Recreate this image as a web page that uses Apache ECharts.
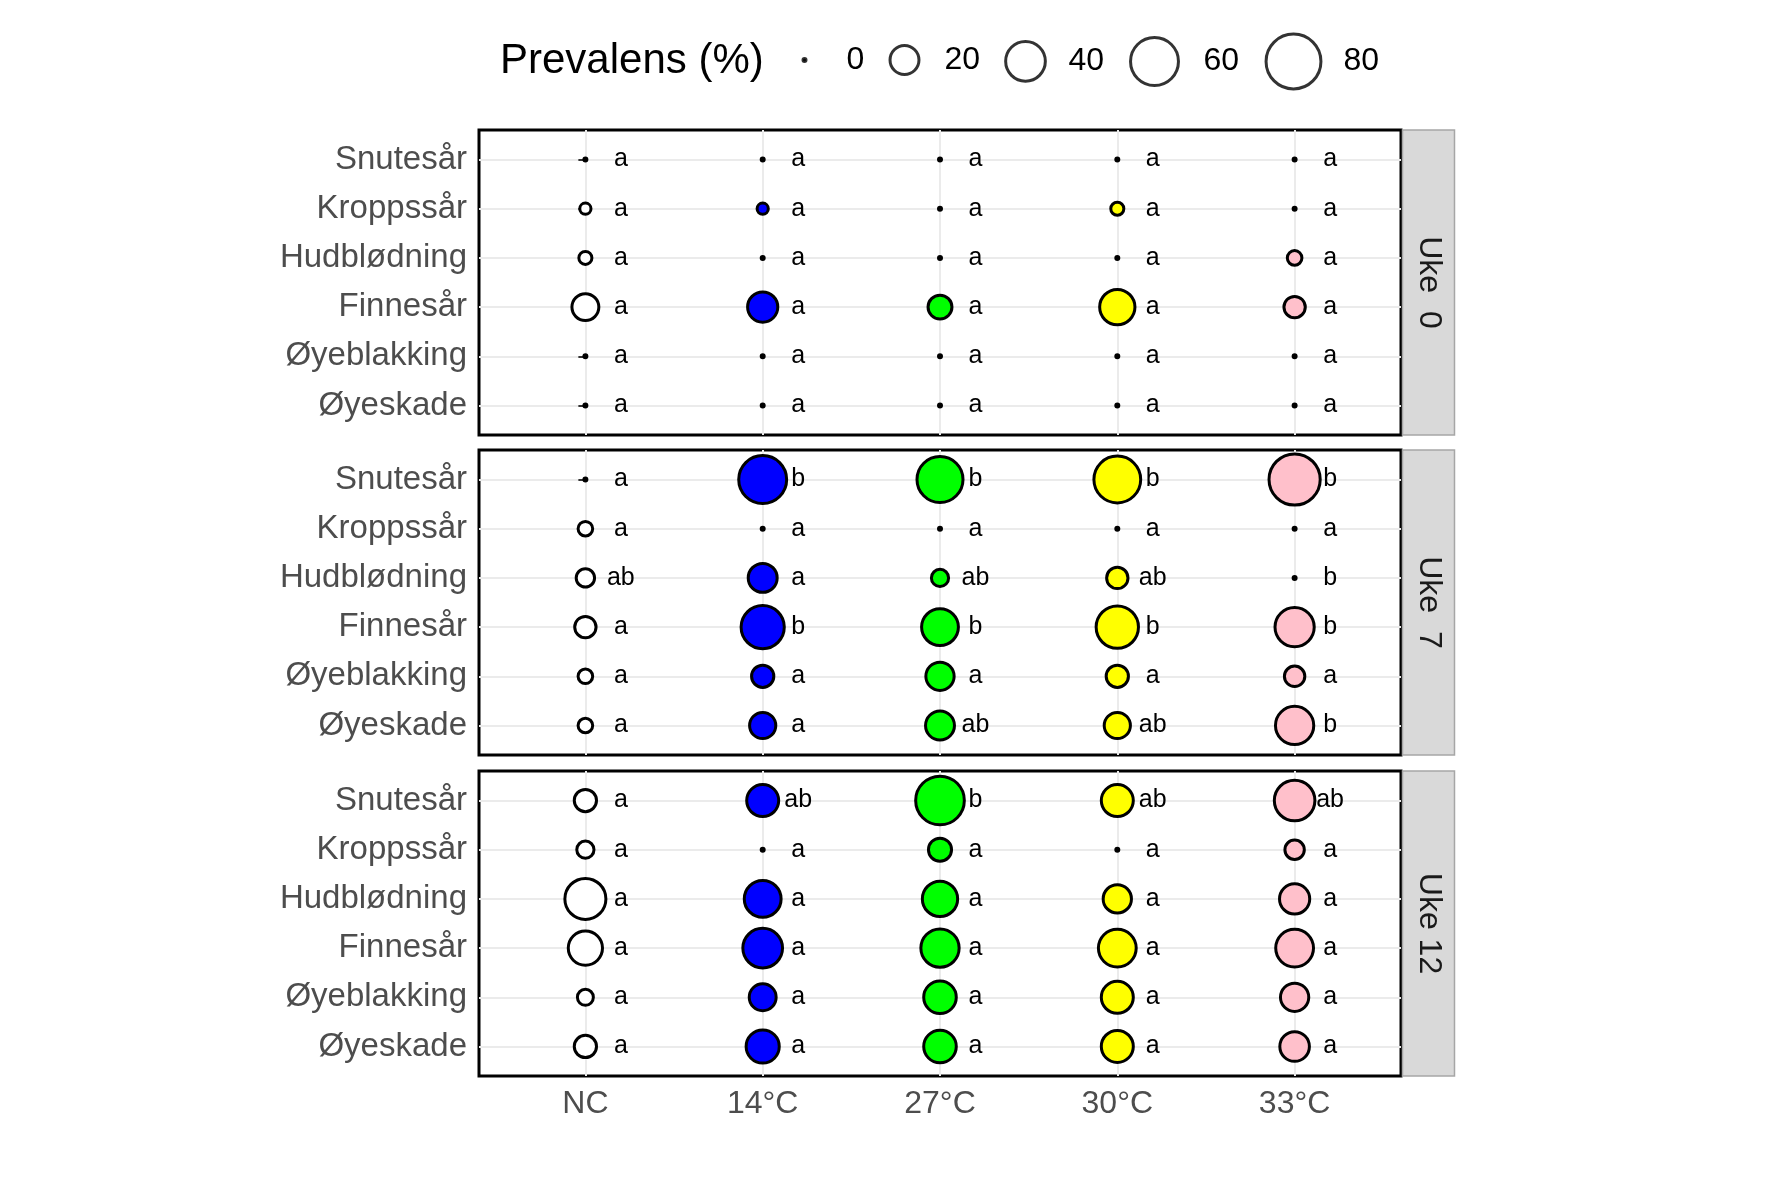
<!DOCTYPE html>
<html><head><meta charset="utf-8">
<script src="https://cdn.jsdelivr.net/npm/echarts@6/dist/echarts.min.js"></script>
<style>html,body{margin:0;padding:0;background:#fff}#c{width:1772px;height:1181px}</style>
</head><body><div id="c"></div>
<script>
// ---------- data ----------
const categories = ['NC', '14°C', '27°C', '30°C', '33°C'];
const symptoms = ['Snutesår', 'Kroppssår', 'Hudblødning', 'Finnesår', 'Øyeblakking', 'Øyeskade'];
const weeks = ['Uke  0', 'Uke  7', 'Uke 12'];
const legendValues = [0, 20, 40, 60, 80];

// prevalence (%) rows = symptoms, columns = categories
const prevUke0 = [
  [0, 0, 0, 0, 0],
  [2, 2, 0, 3, 0],
  [3, 0, 0, 0, 4],
  [17, 22, 13, 31, 10],
  [0, 0, 0, 0, 0],
  [0, 0, 0, 0, 0]
];
const prevUke7 = [
  [0, 60, 55, 57, 69],
  [4, 0, 0, 0, 0],
  [7, 20, 6, 10, 0],
  [10, 48, 34, 46, 39],
  [4, 11, 19, 11, 9],
  [4, 16, 20, 16, 37]
];
const prevUke12 = [
  [11, 25, 62, 25, 42],
  [6, 0, 12, 0, 8],
  [43, 34, 31, 19, 22],
  [29, 40, 37, 36, 36],
  [5, 17, 26, 25, 19],
  [11, 27, 26, 25, 21]
];
const lettersUke0 = [
  ['a', 'a', 'a', 'a', 'a'],
  ['a', 'a', 'a', 'a', 'a'],
  ['a', 'a', 'a', 'a', 'a'],
  ['a', 'a', 'a', 'a', 'a'],
  ['a', 'a', 'a', 'a', 'a'],
  ['a', 'a', 'a', 'a', 'a']
];
const lettersUke7 = [
  ['a', 'b', 'b', 'b', 'b'],
  ['a', 'a', 'a', 'a', 'a'],
  ['ab', 'a', 'ab', 'ab', 'b'],
  ['a', 'b', 'b', 'b', 'b'],
  ['a', 'a', 'a', 'a', 'a'],
  ['a', 'a', 'ab', 'ab', 'b']
];
const lettersUke12 = [
  ['a', 'ab', 'b', 'ab', 'ab'],
  ['a', 'a', 'a', 'a', 'a'],
  ['a', 'a', 'a', 'a', 'a'],
  ['a', 'a', 'a', 'a', 'a'],
  ['a', 'a', 'a', 'a', 'a'],
  ['a', 'a', 'a', 'a', 'a']
];

// ---------- styling / layout ----------
const prevs = [prevUke0, prevUke7, prevUke12];
const letters = [lettersUke0, lettersUke7, lettersUke12];
const fillColors = ['#FFFFFF', '#0000FF', '#00FF00', '#FFFF00', '#FFC0CB'];
const FONT = 'Liberation Sans, Arial, sans-serif';
const BW = 3;
const sizeOf = v => 3 + 5.8 * Math.sqrt(v);   // area-proportional size scale
const labelNudge = 0.2;

const panelLeft = 479, panelWidth = 922, panelHeight = 305;
const panelTops = [130, 450, 771];
const stripWidth = 52;

const legendCx = [803, 903, 1024, 1153, 1292];
const legendTextX = [845, 943, 1067, 1202, 1342];
const legendCy = 60;

const chart = echarts.init(document.getElementById('c'), null, {renderer: 'canvas'});

const grids = [], xAxes = [], yAxes = [], series = [], graphics = [];
const catIdx = categories.map((_, i) => i);
const rowIdx = symptoms.map((_, i) => i);

weeks.forEach((wk, w) => {
  const isBottom = w === weeks.length - 1;
  grids.push({
    left: panelLeft, top: panelTops[w], width: panelWidth, height: panelHeight,
    show: true, borderColor: '#000', borderWidth: 3, backgroundColor: 'transparent', containLabel: false
  });
  xAxes.push({
    type: 'value', gridIndex: w, min: -0.6, max: 4.6,
    axisLine: {show: false},
    axisTick: {show: isBottom, customValues: catIdx, length: 7, lineStyle: {color: '#333', width: 2}},
    axisLabel: {show: isBottom, customValues: catIdx, formatter: v => categories[Math.round(v)],
      fontSize: 32, color: '#4D4D4D', fontFamily: FONT, margin: 12},
    splitLine: {show: true, lineStyle: {color: '#EBEBEB', width: 2}}
  });
  yAxes.push({
    type: 'value', gridIndex: w, min: -0.6, max: 5.6, inverse: true,
    axisLine: {show: false},
    axisTick: {show: true, customValues: rowIdx, length: 7, lineStyle: {color: '#333', width: 2}},
    axisLabel: {show: true, customValues: rowIdx, formatter: v => symptoms[Math.round(v)],
      fontSize: 33, color: '#4D4D4D', fontFamily: FONT, margin: 12},
    splitLine: {show: true, lineStyle: {color: '#EBEBEB', width: 2}}
  });

  const pts = [], lbls = [];
  symptoms.forEach((s, r) => {
    categories.forEach((c, ci) => {
      pts.push([ci, r, prevs[w][r][ci]]);
      lbls.push([ci + labelNudge, r, letters[w][r][ci]]);
    });
  });
  series.push({
    type: 'scatter', xAxisIndex: w, yAxisIndex: w, data: pts, z: 3,
    symbol: 'circle', symbolSize: d => sizeOf(d[2]),
    itemStyle: {color: p => (p.data[2] === 0 ? '#000' : fillColors[p.data[0]]), borderColor: '#000', borderWidth: BW, opacity: 1},
    emphasis: {disabled: true}, silent: true, clip: false
  });
  series.push({
    type: 'scatter', xAxisIndex: w, yAxisIndex: w, data: lbls, z: 4,
    symbol: 'circle', symbolSize: 1, itemStyle: {color: 'rgba(0,0,0,0)'},
    label: {show: true, position: 'inside', formatter: p => p.data[2],
      fontSize: 25, color: '#000', fontFamily: FONT, opacity: 1},
    emphasis: {disabled: true}, silent: true, clip: false
  });

  // facet strip
  graphics.push({
    type: 'rect', z: 0,
    shape: {x: panelLeft + panelWidth + 1.5, y: panelTops[w], width: stripWidth, height: panelHeight},
    style: {fill: '#D9D9D9', stroke: '#A6A6A6', lineWidth: 1.5}
  });
  graphics.push({
    type: 'text', z: 1,
    x: panelLeft + panelWidth + 1.5 + stripWidth / 2, y: panelTops[w] + panelHeight / 2,
    rotation: -Math.PI / 2,
    style: {text: wk, fontSize: 32, fontFamily: FONT, fill: '#1A1A1A', align: 'center', verticalAlign: 'middle'}
  });
});

// legend title
graphics.push({
  type: 'text', x: 500, y: legendCy + 1,
  style: {text: 'Prevalens (%)', fontSize: 42, fontFamily: FONT, fill: '#000', align: 'left', verticalAlign: 'middle'}
});

// size legend: one legend component per key (different key sizes)
const legends = [];
legendValues.forEach((v, i) => {
  const s = sizeOf(v);
  const name = String(v);
  series.push({
    type: 'scatter', name: name, xAxisIndex: 0, yAxisIndex: 0, data: [],
    itemStyle: {color: v === 0 ? '#000' : '#fff', borderColor: '#000', borderWidth: BW}
  });
  const lh = 40;
  const h = Math.max(s, lh);
  legends.push({
    data: [name], icon: 'circle', selectedMode: false,
    left: legendCx[i] - s / 2, top: legendCy - h / 2,
    itemWidth: s, itemHeight: s, itemGap: 0, padding: 0,
    itemStyle: {color: v === 0 ? '#000' : '#fff', borderColor: '#000', borderWidth: BW},
    textStyle: {fontSize: 32, color: '#000', fontFamily: FONT, lineHeight: lh,
      padding: [0, 0, 0, legendTextX[i] - (legendCx[i] + s / 2) - 5]}
  });
});

chart.setOption({
  backgroundColor: '#fff',
  animation: false,
  textStyle: {fontFamily: FONT},
  grid: grids, xAxis: xAxes, yAxis: yAxes,
  legend: legends,
  series: series,
  graphic: graphics
});
</script></body></html>
